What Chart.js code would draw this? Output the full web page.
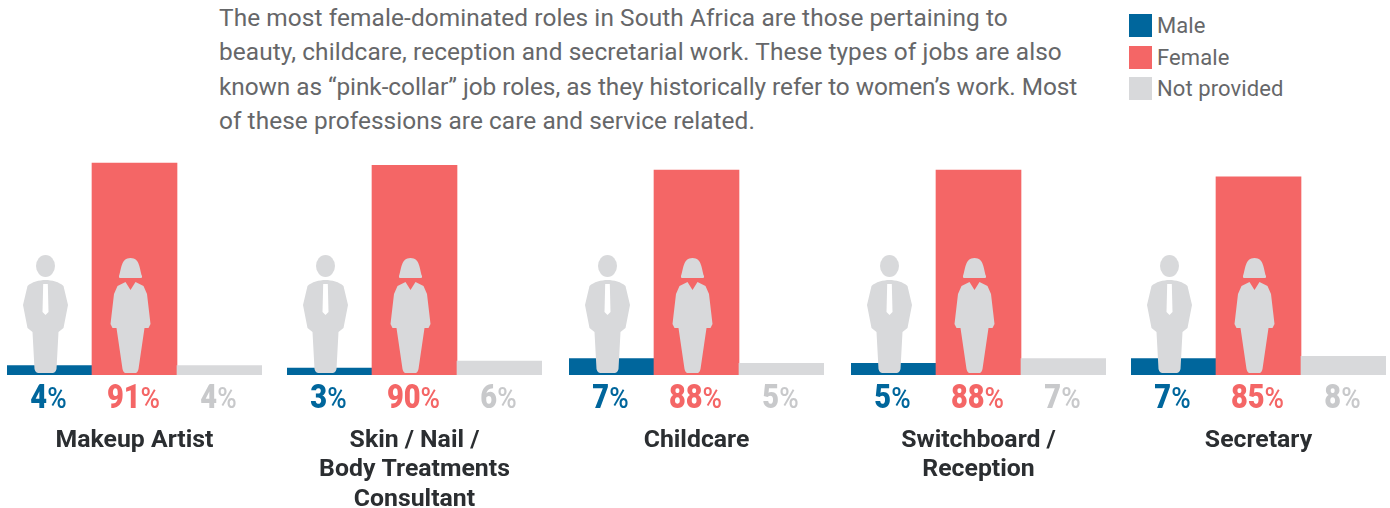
<!DOCTYPE html>
<html>
<head>
<meta charset="utf-8">
<script src="https://cdn.jsdelivr.net/npm/chart.js@4"></script>
<style>
  html, body { margin: 0; padding: 0; background: #fff; overflow: hidden; }
  body { width: 1390px; height: 508px; position: relative; font-family: Roboto, sans-serif; color: #666769; }
  #intro { position: absolute; left: 219px; top: 0.5px; font-size: 24.4px; line-height: 34.5px; letter-spacing: 0.1px; white-space: nowrap; }
  #intro div:nth-child(3) { letter-spacing: -0.05px; }
  #intro div:nth-child(4) { letter-spacing: 0.06px; }
  #legend { position: absolute; left: 1129px; top: 14px; font-size: 22px; letter-spacing: 0.1px; }
  #legend div { position: relative; height: 23px; margin-bottom: 8.5px; padding-left: 28px; line-height: 23px; white-space: nowrap; }
  #legend i { position: absolute; left: 0; top: 0; width: 23px; height: 23px; }
  canvas { position: absolute; top: 142px; }
</style>
</head>
<body>
<div id="intro"></div>
<div id="legend"></div>
<script>
const roles = [
  ["Makeup Artist"],
  ["Skin / Nail /", "Body Treatments", "Consultant"],
  ["Childcare"],
  ["Switchboard /", "Reception"],
  ["Secretary"]
];
const seriesNames = ["Male", "Female", "Not provided"];
const maleValues = [4, 3, 7, 5, 7];
const femaleValues = [91, 90, 88, 88, 85];
const notProvidedValues = [4, 6, 5, 7, 8];

const introLines = [
  "The most female-dominated roles in South Africa are those pertaining to",
  "beauty, childcare, reception and secretarial work. These types of jobs are also",
  "known as “pink-collar” job roles, as they historically refer to women’s work. Most",
  "of these professions are care and service related."
];

const barColors = ["#00669c", "#f46666", "#d8d9db"];
const labelColors = ["#00669c", "#f46666", "#c8c9cb"];
const panelLefts = [7, 287, 569, 851, 1131];

document.getElementById("intro").innerHTML = introLines.map(function (line) {
  return "<div>" + line + "</div>";
}).join("");

const legendBox = document.getElementById("legend");
seriesNames.forEach(function (name, i) {
  const row = document.createElement("div");
  row.innerHTML = '<i style="background:' + barColors[i] + '"></i>' + name;
  legendBox.appendChild(row);
});

// silhouettes are drawn around (0,0) = bottom centre of the figure
function drawMan(ctx, x, y) {
  ctx.save();
  ctx.translate(x, y);
  ctx.fillStyle = "#d8d9db";
  ctx.beginPath();
  ctx.ellipse(0, -107, 9.5, 11, 0, 0, Math.PI * 2);
  ctx.fill();

  ctx.beginPath();
  ctx.moveTo(0, -93);
  ctx.bezierCurveTo(6, -93, 14, -91, 18, -87);
  ctx.lineTo(22.5, -68);
  ctx.lineTo(18, -45);
  ctx.lineTo(13, -41);
  ctx.lineTo(11, -4);
  ctx.quadraticCurveTo(10, 0, 7, 0);
  ctx.lineTo(-7, 0);
  ctx.quadraticCurveTo(-10, 0, -11, -4);
  ctx.lineTo(-13, -41);
  ctx.lineTo(-18, -45);
  ctx.lineTo(-22.5, -68);
  ctx.lineTo(-18, -87);
  ctx.bezierCurveTo(-14, -91, -6, -93, 0, -93);
  ctx.fill();

  // tie
  ctx.fillStyle = "#ffffff";
  ctx.beginPath();
  ctx.moveTo(-2.3, -89);
  ctx.lineTo(2.3, -89);
  ctx.lineTo(3, -61);
  ctx.lineTo(0, -58);
  ctx.lineTo(-3, -61);
  ctx.closePath();
  ctx.fill();
  ctx.restore();
}

function drawWoman(ctx, x, y) {
  ctx.save();
  ctx.translate(x, y);
  ctx.fillStyle = "#d8d9db";

  // hair, a bob that flares towards the shoulders
  ctx.beginPath();
  ctx.moveTo(-10.5, -95);
  ctx.quadraticCurveTo(-12, -95, -11.5, -97);
  ctx.bezierCurveTo(-9, -104, -9.5, -115, 0, -115);
  ctx.bezierCurveTo(9.5, -115, 9, -104, 11.5, -97);
  ctx.quadraticCurveTo(12, -95, 10.5, -95);
  ctx.closePath();
  ctx.fill();

  // body with the collar notch
  ctx.beginPath();
  ctx.moveTo(0, -83);
  ctx.lineTo(5, -91);
  ctx.lineTo(13, -87);
  ctx.lineTo(16.5, -79);
  ctx.lineTo(20, -49);
  ctx.lineTo(18, -45);
  ctx.lineTo(14, -45);
  ctx.lineTo(8, -4);
  ctx.quadraticCurveTo(7, 0, 5, 0);
  ctx.lineTo(-5, 0);
  ctx.quadraticCurveTo(-7, 0, -8, -4);
  ctx.lineTo(-14, -45);
  ctx.lineTo(-18, -45);
  ctx.lineTo(-20, -49);
  ctx.lineTo(-16.5, -79);
  ctx.lineTo(-13, -87);
  ctx.lineTo(-5, -91);
  ctx.closePath();
  ctx.fill();
  ctx.restore();
}

// figures, percentages and the role name under each group of bars
const panelDecor = {
  id: "panelDecor",
  afterDatasetsDraw: function (chart, args, opts) {
    const ctx = chart.ctx;
    const xScale = chart.scales.x;
    const base = chart.scales.y.getPixelForValue(0);
    const squeeze = 0.88;

    drawMan(ctx, xScale.getPixelForValue(0) - 4, base - 2);
    drawWoman(ctx, xScale.getPixelForValue(1) - 4, base - 2);

    chart.data.datasets[0].data.forEach(function (value, i) {
      const num = String(value);
      ctx.save();
      ctx.textBaseline = "alphabetic";
      ctx.textAlign = "left";
      ctx.fillStyle = labelColors[i];
      ctx.font = "900 33px Roboto";
      const numWidth = ctx.measureText(num).width;
      ctx.font = "500 30px Roboto";
      const pctWidth = ctx.measureText("%").width;
      // the figures are set a little condensed
      ctx.translate(xScale.getPixelForValue(i) - 1, base + 33);
      ctx.scale(squeeze, 1);
      const left = -(numWidth + pctWidth) / 2;
      ctx.font = "900 33px Roboto";
      ctx.fillText(num, left, 0);
      ctx.font = "500 30px Roboto";
      ctx.fillText("%", left + numWidth, 0);
      ctx.restore();
    });

    ctx.save();
    ctx.fillStyle = "#2b2e31";
    ctx.textAlign = "center";
    ctx.font = "700 24.8px Roboto";
    opts.role.forEach(function (line, i) {
      ctx.fillText(line, chart.chartArea.left + chart.chartArea.width / 2, base + 71.5 + i * 29.5);
    });
    ctx.restore();
  }
};

roles.forEach(function (role, i) {
  const canvas = document.createElement("canvas");
  canvas.style.left = panelLefts[i] + "px";
  canvas.width = 255;
  canvas.height = 366;
  document.body.appendChild(canvas);

  new Chart(canvas, {
    type: "bar",
    data: {
      labels: seriesNames,
      datasets: [
        {
          data: [maleValues[i], femaleValues[i], notProvidedValues[i]],
          backgroundColor: barColors,
          borderWidth: 0,
          barPercentage: 1,
          categoryPercentage: 1
        }
      ]
    },
    options: {
      responsive: false,
      animation: false,
      layout: { padding: { bottom: 133 } },
      scales: {
        x: { display: false },
        y: { display: false, min: 0, max: 100 }
      },
      plugins: {
        legend: { display: false },
        tooltip: { enabled: false },
        panelDecor: { role: role }
      }
    },
    plugins: [panelDecor]
  });
});
</script>
</body>
</html>
